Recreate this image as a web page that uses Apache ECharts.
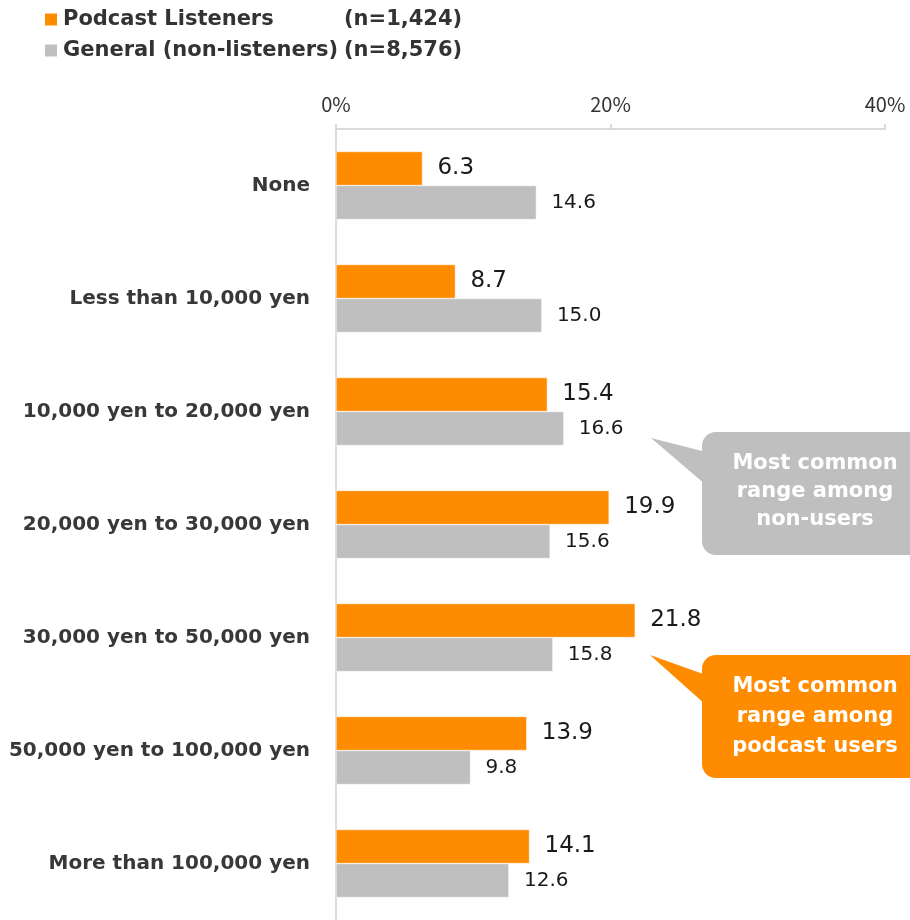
<!DOCTYPE html>
<html>
<head>
<meta charset="utf-8">
<script src="https://cdn.jsdelivr.net/npm/echarts@6/dist/echarts.min.js"></script>
<style>html,body{margin:0;padding:0;background:#fff;}#c{width:910px;height:920px;}</style>
</head>
<body>
<div id="c"></div>
<script>
var categories = ['None', 'Less than 10,000 yen', '10,000 yen to 20,000 yen', '20,000 yen to 30,000 yen', '30,000 yen to 50,000 yen', '50,000 yen to 100,000 yen', 'More than 100,000 yen'];
var podcastValues = [6.3, 8.7, 15.4, 19.9, 21.8, 13.9, 14.1];
var generalValues = [14.6, 15.0, 16.6, 15.6, 15.8, 9.8, 12.6];
var seriesNames = ['Podcast Listeners', 'General (non-listeners)'];
var sampleSizes = ['(n=1,424)', '(n=8,576)'];
var xTicks = [0, 20, 40];

var FONT = '"Noto Sans CJK JP", "Noto Sans", sans-serif';
var DV = '"DejaVu Sans", "Noto Sans CJK JP", sans-serif';
var chart = echarts.init(document.getElementById('c'));
var option = {
  backgroundColor: '#ffffff',
  animation: false,
  textStyle: { fontFamily: DV },
  legend: {
    orient: 'vertical',
    left: 43,
    top: 9,
    padding: 0,
    itemWidth: 14,
    itemHeight: 14,
    itemGap: 10,
    icon: 'rect',
    data: seriesNames,
    formatter: function (name) {
      var i = seriesNames.indexOf(name);
      return '{a|' + name + '}{b|' + sampleSizes[i] + '}';
    },
    textStyle: {
      color: '#333333',
      rich: {
        a: { fontSize: 21, fontWeight: 'bold', color: '#333333', width: 281, lineHeight: 26, fontFamily: DV },
        b: { fontSize: 21, fontWeight: 'bold', color: '#333333', lineHeight: 26, fontFamily: DV }
      }
    }
  },
  grid: { left: 336, top: 129, width: 549, height: 793, containLabel: false },
  xAxis: {
    type: 'value',
    position: 'top',
    min: 0,
    max: 40,
    interval: 20,
    axisLine: { show: true, lineStyle: { color: '#d0d0d0', width: 1.5 } },
    axisTick: { show: true, length: 5, lineStyle: { color: '#d0d0d0', width: 1.5 } },
    splitLine: { show: false },
    axisLabel: {
      color: '#333333', fontSize: 20, margin: 15, fontFamily: FONT,
      formatter: function (v) { return xTicks.indexOf(v) >= 0 ? v + '%' : ''; }
    }
  },
  yAxis: {
    type: 'category',
    inverse: true,
    data: categories,
    axisLine: { show: true, lineStyle: { color: '#d0d0d0', width: 1.5 } },
    axisTick: { show: false },
    axisLabel: { color: '#383838', fontSize: 20, fontWeight: 'bold', margin: 26, fontFamily: DV }
  },
  series: [
    {
      name: seriesNames[0],
      type: 'bar',
      data: podcastValues,
      barWidth: 34,
      barGap: '0%',
      itemStyle: { color: '#ff8c00', borderColor: '#ffffff', borderWidth: 0.5 },
      label: { show: true, position: 'right', distance: 15, color: '#1a1a1a', fontSize: 23, fontFamily: DV,
        formatter: function (p) { return p.value.toFixed(1); } }
    },
    {
      name: seriesNames[1],
      type: 'bar',
      data: generalValues,
      barWidth: 34,
      barGap: '0%',
      itemStyle: { color: '#bfbfbf', borderColor: '#ffffff', borderWidth: 0.5 },
      label: { show: true, position: 'right', distance: 15, color: '#1a1a1a', fontSize: 20, fontFamily: DV,
        formatter: function (p) { return p.value.toFixed(1); } }
    }
  ],
  graphic: [
    { type: 'polygon', shape: { points: [[651, 438], [706, 452], [706, 485]] }, style: { fill: '#bfbfbf' } },
    { type: 'rect', shape: { x: 702, y: 432, width: 230, height: 123, r: 14 }, style: { fill: '#bfbfbf' } },
    { type: 'text', x: 815, y: 492, style: { text: 'Most common\nrange among\nnon-users', fill: '#ffffff', font: 'bold 21px ' + DV, align: 'center', verticalAlign: 'middle', lineHeight: 28 } },
    { type: 'polygon', shape: { points: [[650, 655], [706, 675], [706, 705]] }, style: { fill: '#ff8c00' } },
    { type: 'rect', shape: { x: 702, y: 655, width: 230, height: 123, r: 14 }, style: { fill: '#ff8c00' } },
    { type: 'text', x: 815, y: 717, style: { text: 'Most common\nrange among\npodcast users', fill: '#ffffff', font: 'bold 21px ' + DV, align: 'center', verticalAlign: 'middle', lineHeight: 30 } }
  ]
};
chart.setOption(option);
</script>
</body>
</html>
